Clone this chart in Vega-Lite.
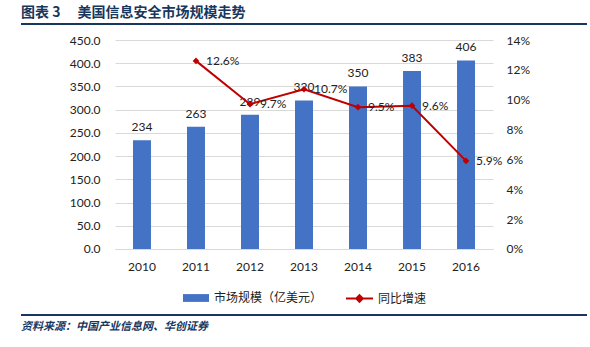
{
  "$schema": "https://vega.github.io/schema/vega-lite/v6.json",
  "background": "white",
  "padding": {"left": 21, "top": 6, "right": 3, "bottom": 4},
  "spacing": 15,
  "center": true,
  "bounds": "flush",
  "resolve": {"legend": {"fill": "independent", "stroke": "independent"}, "scale": {"fill": "independent", "stroke": "independent"}},
  "config": {
    "font": "Lato",
    "view": {"stroke": null},
    "axis": {"labelFont": "Lato", "labelFontSize": 12, "labelColor": "#222222", "title": null},
    "legend": {"labelFont": "Noto Sans CJK SC", "labelFontSize": 12, "labelColor": "#222222",
      "layout": {"bottom": {"anchor": "middle", "direction": "horizontal", "margin": 22}}}
  },
  "datasets": {
    "market": [
      {"year": "2010", "size": 234, "growth": null},
      {"year": "2011", "size": 263, "growth": 0.126},
      {"year": "2012", "size": 289, "growth": 0.097},
      {"year": "2013", "size": 320, "growth": 0.107},
      {"year": "2014", "size": 350, "growth": 0.095},
      {"year": "2015", "size": 383, "growth": 0.096},
      {"year": "2016", "size": 406, "growth": 0.059}
    ],
    "empty": []
  },
  "vconcat": [
    {
      "width": 566,
      "height": 2,
      "title": {"text": "图表 3\u00a0\u3000美国信息安全市场规模走势", "anchor": "start", "font": "Noto Sans CJK SC", "fontSize": 14, "fontWeight": "bold", "color": "#17375E", "offset": 3, "frame": "group"},
      "view": {"fill": "#17375E", "stroke": null},
      "data": {"name": "empty"},
      "mark": "point"
    },
    {
      "width": 378,
      "height": 259,
      "data": {"name": "market"},
      "encoding": {
        "x": {
          "field": "year", "type": "ordinal",
          "scale": {"paddingInner": 0.667, "paddingOuter": 0.333},
          "axis": {"labelAngle": 0, "ticks": false, "domainColor": "#D9D9D9", "labelPadding": 12, "offset": -50}
        }
      },
      "layer": [
        {
          "encoding": {
            "y": {"field": "size", "type": "quantitative", "scale": {"domain": [-107.66, 450], "nice": false, "zero": false},
              "axis": {"orient": "left", "values": [0, 50, 100, 150, 200, 250, 300, 350, 400, 450], "format": ".1f", "domain": false, "ticks": false, "labelPadding": 15, "gridColor": "#D9D9D9", "grid": true}}
          },
          "layer": [
            {
              "mark": {"type": "bar"},
              "encoding": {
                "y2": {"datum": 0},
                "fill": {"datum": "市场规模（亿美元）", "scale": {"range": ["#4472C4"]},
                  "legend": {"title": null, "orient": "bottom", "symbolType": "M-1,-0.3H1V0.3H-1Z", "symbolSize": 676, "offset": -15}}
              }
            },
            {
              "mark": {"type": "text", "baseline": "bottom", "dy": -6, "fontSize": 12, "color": "#222222", "font": "Lato"},
              "encoding": {
                "text": {"field": "size", "type": "quantitative"}
              }
            }
          ]
        },
        {
          "transform": [{"filter": "datum.growth != null"}],
          "encoding": {
            "y": {"field": "growth", "type": "quantitative", "scale": {"domain": [-0.033493, 0.14], "nice": false, "zero": false},
              "axis": {"orient": "right", "values": [0, 0.02, 0.04, 0.06, 0.08, 0.1, 0.12, 0.14], "format": ".0%", "domain": false, "ticks": false, "grid": false, "labelPadding": 13}}
          },
          "layer": [
            {
              "mark": {"type": "line", "strokeWidth": 2},
              "encoding": {
                "stroke": {"datum": "同比增速", "scale": {"range": ["#C00000"]},
                  "legend": {"title": null, "orient": "bottom", "symbolType": "M-1,0H1M0,-0.24L0.24,0L0,0.24L-0.24,0Z", "symbolSize": 729, "symbolStrokeWidth": 2, "symbolFillColor": "#C00000", "offset": -15}}
              }
            },
            {
              "mark": {"type": "point", "shape": "diamond", "size": 45, "filled": true, "color": "#C00000", "opacity": 1}
            },
            {
              "mark": {"type": "text", "align": "left", "baseline": "middle", "dx": 10, "fontSize": 12, "color": "#222222", "font": "Lato"},
              "encoding": {
                "text": {"field": "growth", "type": "quantitative", "format": ".1%"}
              }
            }
          ]
        }
      ],
      "resolve": {"scale": {"y": "independent"}}
    },
    {
      "width": 566,
      "height": 2,
      "title": {"text": "资料来源：中国产业信息网、华创证券", "orient": "bottom", "anchor": "start", "font": "Noto Sans CJK SC", "fontSize": 11, "fontStyle": "italic", "color": "#17375E", "offset": 5, "frame": "group"},
      "view": {"fill": "#17375E", "stroke": null},
      "data": {"name": "empty"},
      "mark": "point"
    }
  ]
}
